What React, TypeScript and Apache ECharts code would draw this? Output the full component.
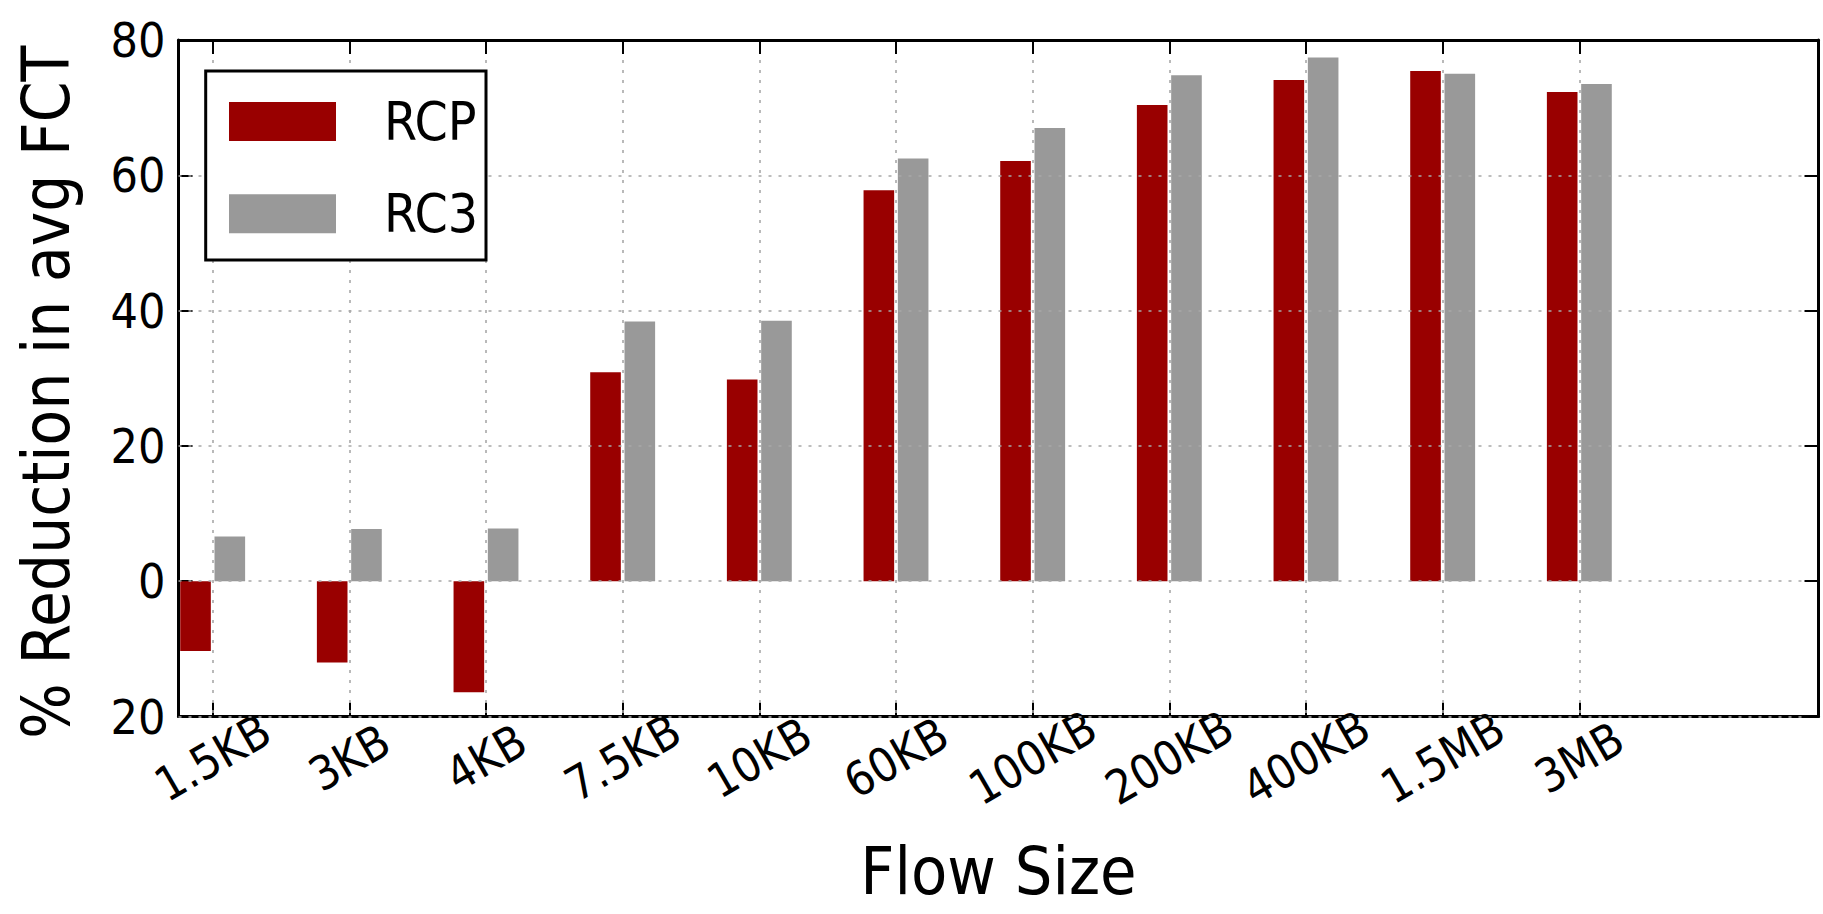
import React, { useEffect, useRef } from "react";
import * as echarts from "echarts";

const categories = ["1.5KB", "3KB", "4KB", "7.5KB", "10KB", "60KB", "100KB", "200KB", "400KB", "1.5MB", "3MB"];
const rcpValues = [-10.3, -12.0, -16.4, 30.9, 29.8, 57.8, 62.1, 70.4, 74.1, 75.4, 72.3];
const rc3Values = [6.6, 7.7, 7.8, 38.4, 38.5, 62.5, 67.0, 74.8, 77.4, 75.0, 73.5];
const seriesNames = ["RCP", "RC3"];
const seriesColors = ["#990000", "#999999"];
const yMin = -20;
const yMax = 80;
const yStep = 20;
const xAxisTitle = "Flow Size";
const yAxisTitle = "% Reduction in avg FCT";

const FONT = "'DejaVu Sans Condensed', 'DejaVu Sans', sans-serif";

export default function App() {
  const ref = useRef<HTMLDivElement | null>(null);

  useEffect(() => {
    if (!ref.current) return;
    const chart = echarts.init(ref.current, null, { renderer: "svg" });
    const positions = categories.map((_, i) => i);
    const gridDash = { color: "#a8a8a8", width: 1.6, type: [3, 7] as any };
    const axisLineStyle = { color: "#000", width: 3 };
    const tickStyle = { color: "#000", width: 2 };

    const option: any = {
      animation: false,
      backgroundColor: "#ffffff",
      textStyle: { fontFamily: FONT },
      grid: {
        left: 178.5,
        right: 4.5,
        top: 40,
        bottom: 197.5,
        containLabel: false,
        outerBoundsMode: "none",
      },
      graphic: [
        {
          type: "rect",
          z: 9,
          shape: { x: 205.7, y: 71, width: 280.3, height: 189 },
          style: { fill: "#ffffff", stroke: "#000000", lineWidth: 3 },
        },
      ],
      legend: {
        orient: "vertical",
        left: 229,
        top: 95,
        padding: 0,
        z: 10,
        icon: "rect",
        itemWidth: 107,
        itemHeight: 39,
        itemGap: 39.2,
        data: seriesNames,
        textStyle: {
          fontFamily: FONT,
          fontSize: 53,
          color: "#000",
          padding: [0, 0, 0, 43],
        },
      },
      xAxis: [
        {
          type: "value",
          position: "bottom",
          min: -0.25,
          max: 11.75,
          axisLine: { show: true, onZero: false, lineStyle: axisLineStyle },
          axisTick: { show: true, inside: true, length: 14, lineStyle: tickStyle, customValues: positions },
          axisLabel: {
            show: true,
            customValues: positions,
            formatter: (v: number) => categories[Math.round(v)] ?? "",
            rotate: 30,
            align: "center",
            verticalAlign: "middle",
            margin: 41,
            fontSize: 47,
            color: "#000",
            fontFamily: FONT,
          },
          splitLine: { show: false },
          name: xAxisTitle,
          nameLocation: "middle",
          nameGap: 128,
          nameTextStyle: { fontSize: 66, lineHeight: 54, color: "#000", fontFamily: FONT },
        },
        {
          type: "value",
          position: "top",
          min: -0.25,
          max: 11.75,
          z: 5,
          axisLine: { show: true, onZero: false, lineStyle: axisLineStyle },
          axisTick: { show: true, inside: true, length: 14, lineStyle: tickStyle, customValues: positions },
          axisLabel: { show: false, customValues: positions },
          splitLine: { show: true, lineStyle: gridDash },
        },
      ],
      yAxis: [
        {
          type: "value",
          position: "left",
          min: yMin,
          max: yMax,
          interval: yStep,
          axisLine: { show: true, onZero: false, lineStyle: axisLineStyle },
          axisTick: { show: true, inside: true, length: 14, lineStyle: tickStyle },
          axisLabel: {
            show: true,
            margin: 13,
            fontSize: 48,
            color: "#000",
            fontFamily: FONT,
            formatter: (v: number) => String(Math.abs(v)),
          },
          splitLine: { show: false },
          name: yAxisTitle,
          nameLocation: "middle",
          nameRotate: 90,
          nameGap: 100,
          nameTextStyle: { fontSize: 65, color: "#000", fontFamily: FONT, padding: [0, 28, 0, 0] },
        },
        {
          type: "value",
          position: "right",
          min: yMin,
          max: yMax,
          interval: yStep,
          z: 5,
          axisLine: { show: true, onZero: false, lineStyle: axisLineStyle },
          axisTick: { show: true, inside: true, length: 14, lineStyle: tickStyle },
          axisLabel: { show: false },
          splitLine: { show: true, lineStyle: gridDash },
        },
      ],
      series: [
        {
          name: seriesNames[0],
          type: "bar",
          xAxisIndex: 0,
          yAxisIndex: 0,
          barWidth: "22.4%",
          barGap: "12%",
          itemStyle: { color: seriesColors[0] },
          data: rcpValues.map((v, i) => [positions[i], v]),
        },
        {
          name: seriesNames[1],
          type: "bar",
          xAxisIndex: 0,
          yAxisIndex: 0,
          barWidth: "22.4%",
          barGap: "12%",
          itemStyle: { color: seriesColors[1] },
          data: rc3Values.map((v, i) => [positions[i], v]),
        },
      ],
    };
    chart.setOption(option);
    return () => chart.dispose();
  }, []);

  return (
    <div
      ref={ref}
      style={{ position: "fixed", left: 0, top: 0, width: 1823, height: 914, background: "#fff" }}
    />
  );
}
